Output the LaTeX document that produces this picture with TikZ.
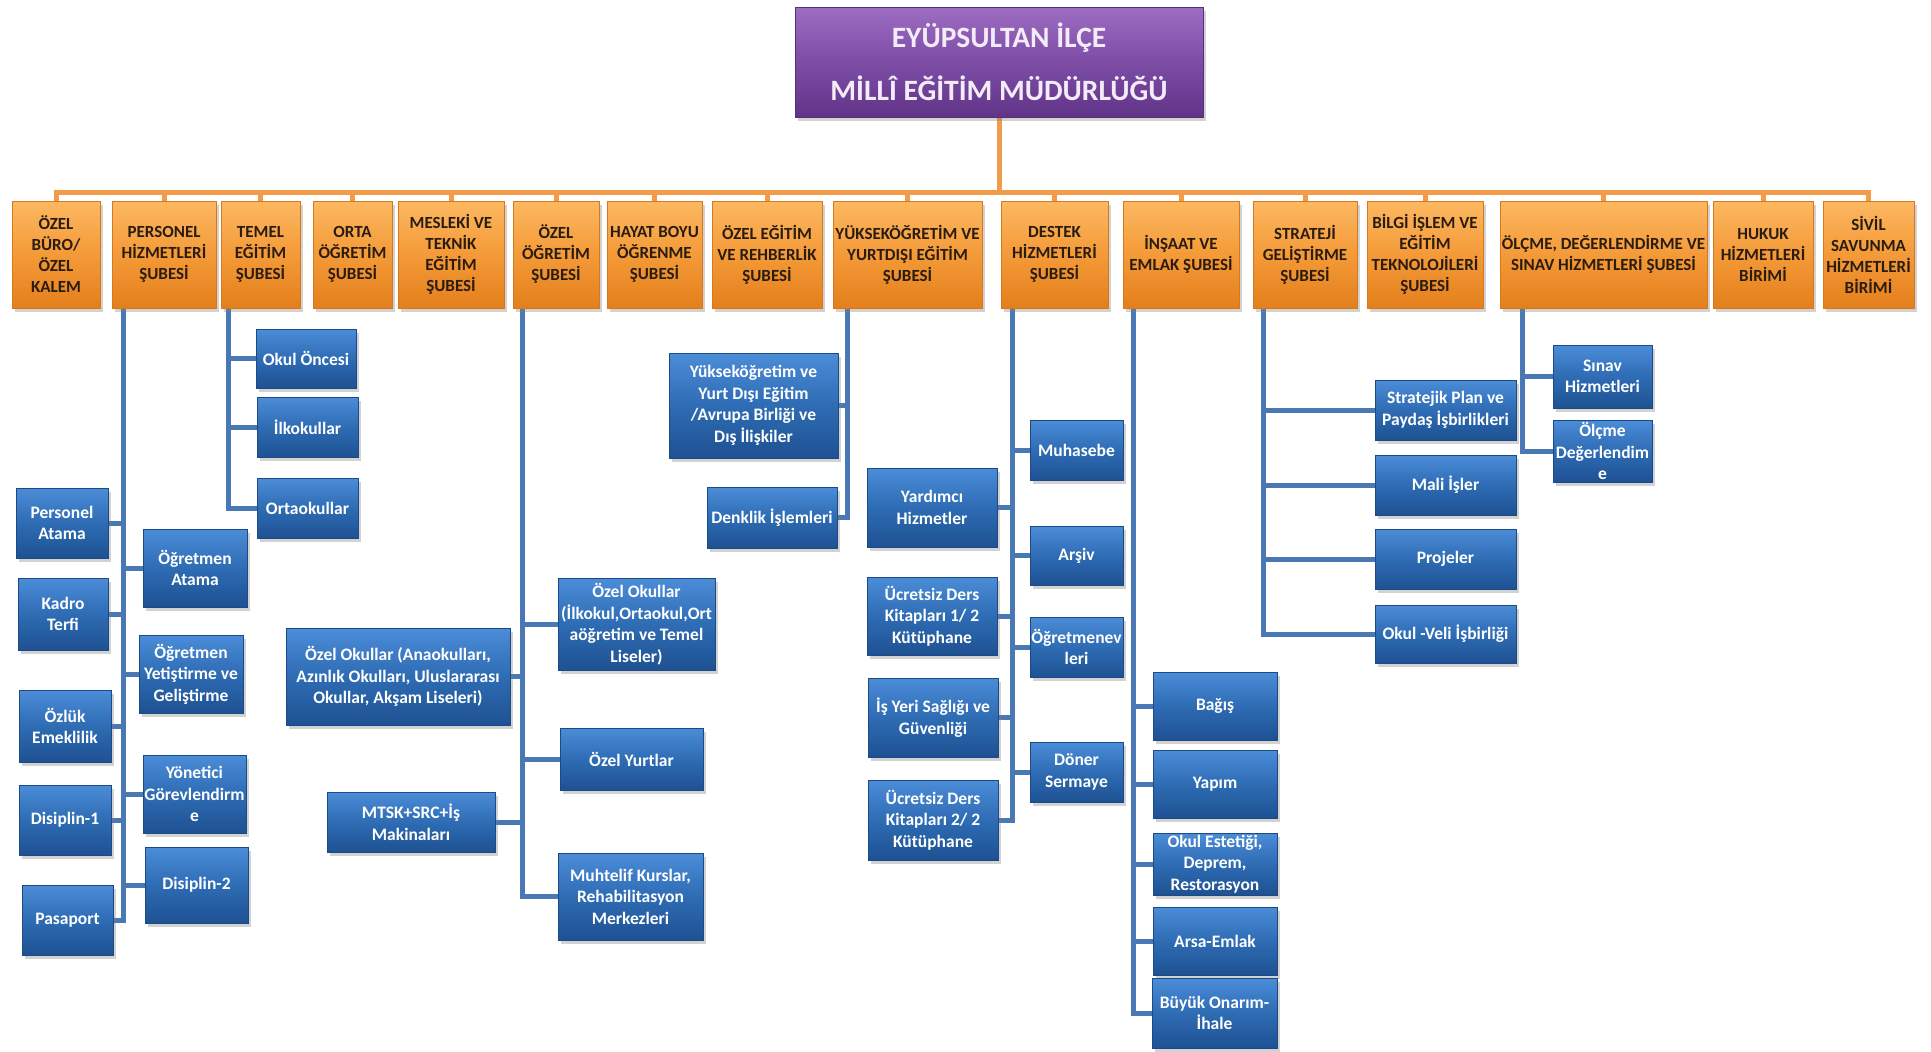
\documentclass[tikz,border=0pt]{standalone}
\usepackage{fontspec}
\setmainfont{Carlito}
\usetikzlibrary{shadows,backgrounds}
\definecolor{oTop}{HTML}{FCB862}
\definecolor{oMid}{HTML}{F49A38}
\definecolor{oBot}{HTML}{E37F1C}
\definecolor{oEdge}{HTML}{D8781C}
\definecolor{oText}{HTML}{2A1C0E}
\definecolor{oLine}{HTML}{F29B4A}
\definecolor{bTop}{HTML}{4C8DD8}
\definecolor{bMid}{HTML}{2E6CB4}
\definecolor{bBot}{HTML}{1E5192}
\definecolor{bEdge}{HTML}{1B4A86}
\definecolor{bLine}{HTML}{4A78B5}
\definecolor{pTop}{HTML}{9C6DC2}
\definecolor{pMid}{HTML}{7D4DA6}
\definecolor{pBot}{HTML}{603487}
\definecolor{pEdge}{HTML}{55307A}
\definecolor{pText}{HTML}{F4EBF8}
\tikzset{
  boxbase/.style={rectangle, inner sep=1pt, align=center,
    drop shadow={opacity=0.35, shadow xshift=3pt, shadow yshift=-4pt}},
  orgbox/.style={boxbase, draw=oEdge, line width=0.8pt, top color=oTop, bottom color=oBot, middle color=oMid,
    text=oText, font=\fontsize{17}{21}\selectfont\bfseries},
  bluebox/.style={boxbase, draw=bEdge, line width=0.8pt, top color=bTop, bottom color=bBot, middle color=bMid,
    text=white, font=\fontsize{17.5}{21.5}\selectfont\bfseries},
  headbox/.style={boxbase, draw=pEdge, line width=1pt, top color=pTop, bottom color=pBot, middle color=pMid,
    text=pText, font=\fontsize{29.5}{53}\selectfont\bfseries},
  blueline/.style={draw=bLine, line width=5pt},
  orgline/.style={draw=oLine, line width=5pt},
}
\newcommand\mkbox[7]{\node[#1, minimum width={(#5-#3)*1pt}, minimum height={(#6-#4)*1pt}] (#2) at ({(#3+#5)/2},{(#4+#6)/2}) {#7};}
\begin{document}
\begin{tikzpicture}[x=1pt,y=-1pt]
\useasboundingbox (0,0) rectangle (1931,1052);
% head
\mkbox{headbox}{head}{795}{7}{1203}{117}{EYÜPSULTAN İLÇE\\MİLLÎ EĞİTİM MÜDÜRLÜĞÜ}
% top row
\mkbox{orgbox}{ozelburo}{12}{201}{100}{308}{ÖZEL\\BÜRO/\\ÖZEL\\KALEM}
\mkbox{orgbox}{personel}{112}{201}{216}{308}{PERSONEL\\HİZMETLERİ\\ŞUBESİ}
\mkbox{orgbox}{temel}{221}{201}{300}{308}{TEMEL\\EĞİTİM\\ŞUBESİ}
\mkbox{orgbox}{orta}{313}{201}{392}{308}{ORTA\\ÖĞRETİM\\ŞUBESİ}
\mkbox{orgbox}{mesleki}{398}{201}{504}{308}{MESLEKİ VE\\TEKNİK\\EĞİTİM\\ŞUBESİ}
\mkbox{orgbox}{ozelogr}{513}{201}{599}{308}{ÖZEL\\ÖĞRETİM\\ŞUBESİ}
\mkbox{orgbox}{hayat}{607}{201}{702}{308}{HAYAT BOYU\\ÖĞRENME\\ŞUBESİ}
\mkbox{orgbox}{ozelegt}{712}{201}{822}{308}{ÖZEL EĞİTİM\\VE REHBERLİK\\ŞUBESİ}
\mkbox{orgbox}{yuksek}{833}{201}{982}{308}{YÜKSEKÖĞRETİM VE\\YURTDIŞI EĞİTİM\\ŞUBESİ}
\mkbox{orgbox}{destek}{1001}{201}{1108}{308}{DESTEK\\HİZMETLERİ\\ŞUBESİ}
\mkbox{orgbox}{insaat}{1123}{201}{1239}{308}{İNŞAAT VE\\EMLAK ŞUBESİ}
\mkbox{orgbox}{strateji}{1253}{201}{1357}{308}{STRATEJİ\\GELİŞTİRME\\ŞUBESİ}
\mkbox{orgbox}{bilgi}{1367}{201}{1483}{308}{BİLGİ İŞLEM VE\\EĞİTİM\\TEKNOLOJİLERİ\\ŞUBESİ}
\mkbox{orgbox}{olcme}{1500}{201}{1707}{308}{ÖLÇME, DEĞERLENDİRME VE\\SINAV HİZMETLERİ ŞUBESİ}
\mkbox{orgbox}{hukuk}{1713}{201}{1813}{308}{HUKUK\\HİZMETLERİ\\BİRİMİ}
\mkbox{orgbox}{sivil}{1823}{201}{1914}{308}{SİVİL\\SAVUNMA\\HİZMETLERİ\\BİRİMİ}
% personel
\mkbox{bluebox}{patama}{16}{488}{108}{558}{Personel\\Atama}
\mkbox{bluebox}{kadro}{18}{578}{108}{650}{Kadro\\Terfi}
\mkbox{bluebox}{ozluk}{19}{690}{111}{762}{Özlük\\Emeklilik}
\mkbox{bluebox}{disip1}{19}{785}{111}{855}{Disiplin-1}
\mkbox{bluebox}{pasaport}{22}{885}{113}{955}{Pasaport}
\mkbox{bluebox}{oatama}{143}{529}{247}{607}{Öğretmen\\Atama}
\mkbox{bluebox}{oyetis}{139}{635}{243}{713}{Öğretmen\\Yetiştirme ve\\Geliştirme}
\mkbox{bluebox}{yonetici}{143}{755}{246}{833}{Yönetici\\Görevlendirm\\e}
\mkbox{bluebox}{disip2}{145}{847}{248}{923}{Disiplin-2}
% temel
\mkbox{bluebox}{okulon}{256}{329}{356}{388}{Okul Öncesi}
\mkbox{bluebox}{ilkokul}{257}{397}{358}{457}{İlkokullar}
\mkbox{bluebox}{ortaokul}{257}{478}{358}{538}{Ortaokullar}
% ozel ogretim
\mkbox{bluebox}{ozokul1}{558}{578}{715}{670}{Özel Okullar\\(İlkokul,Ortaokul,Ort\\aöğretim ve Temel\\Liseler)}
\mkbox{bluebox}{ozokul2}{286}{628}{510}{725}{Özel Okullar (Anaokulları,\\Azınlık Okulları, Uluslararası\\Okullar, Akşam Liseleri)}
\mkbox{bluebox}{yurt}{560}{728}{703}{790}{Özel Yurtlar}
\mkbox{bluebox}{mtsk}{327}{792}{495}{852}{MTSK+SRC+İş\\Makinaları}
\mkbox{bluebox}{muhtelif}{558}{853}{703}{940}{Muhtelif Kurslar,\\Rehabilitasyon\\Merkezleri}
% yuksekogretim
\mkbox{bluebox}{yurtdisi}{669}{353}{838}{458}{Yükseköğretim ve\\Yurt Dışı Eğitim\\/Avrupa Birliği ve\\Dış İlişkiler}
\mkbox{bluebox}{denklik}{707}{487}{837}{548}{Denklik İşlemleri}
% destek
\mkbox{bluebox}{muhasebe}{1030}{420}{1123}{480}{Muhasebe}
\mkbox{bluebox}{arsiv}{1030}{526}{1123}{585}{Arşiv}
\mkbox{bluebox}{ogrevi}{1030}{617}{1123}{677}{Öğretmenev\\leri}
\mkbox{bluebox}{doner}{1030}{742}{1123}{802}{Döner\\Sermaye}
\mkbox{bluebox}{yardimci}{867}{468}{997}{547}{Yardımcı\\Hizmetler}
\mkbox{bluebox}{ucretA}{867}{577}{997}{655}{Ücretsiz Ders\\Kitapları 1/ 2\\Kütüphane}
\mkbox{bluebox}{isyeri}{868}{678}{998}{757}{İş Yeri Sağlığı ve\\Güvenliği}
\mkbox{bluebox}{ucretB}{868}{780}{998}{860}{Ücretsiz Ders\\Kitapları 2/ 2\\Kütüphane}
% insaat
\mkbox{bluebox}{bagis}{1153}{672}{1277}{740}{Bağış}
\mkbox{bluebox}{yapim}{1153}{750}{1277}{818}{Yapım}
\mkbox{bluebox}{estetik}{1153}{833}{1277}{895}{Okul Estetiği,\\Deprem,\\Restorasyon}
\mkbox{bluebox}{arsa}{1153}{907}{1277}{975}{Arsa-Emlak}
\mkbox{bluebox}{buyuk}{1152}{978}{1277}{1048}{Büyük Onarım-\\İhale}
% strateji
\mkbox{bluebox}{strplan}{1375}{380}{1516}{440}{Stratejik Plan ve\\Paydaş İşbirlikleri}
\mkbox{bluebox}{mali}{1375}{455}{1516}{515}{Mali İşler}
\mkbox{bluebox}{projeler}{1375}{529}{1516}{589}{Projeler}
\mkbox{bluebox}{okulveli}{1375}{605}{1516}{663}{Okul -Veli İşbirliği}
% olcme
\mkbox{bluebox}{sinav}{1553}{345}{1652}{408}{Sınav\\Hizmetleri}
\mkbox{bluebox}{olcdeg}{1553}{420}{1652}{482}{Ölçme\\Değerlendim\\e}
% trunk coordinates
\coordinate (tPers) at (123,0);
\coordinate (tTem) at (228,0);
\coordinate (tOzo) at (522,0);
\coordinate (tYuk) at (847,0);
\coordinate (tDes) at (1012,0);
\coordinate (tIns) at (1133,0);
\coordinate (tStr) at (1263,0);
\coordinate (tOlc) at (1522,0);
\path (ozelburo.north) ++(0,-8) coordinate (busL);
\path (sivil.north) ++(0,-8) coordinate (busR);
\begin{scope}[on background layer]
\fill[white] (0,0) rectangle (1931,1052);
% orange bus
\draw[orgline] (head.south) -- (head.south |- busL);
\draw[orgline] ([xshift=-2.5pt]busL) -- ([xshift=2.5pt]busR);
\foreach \n in {ozelburo,personel,temel,orta,mesleki,ozelogr,hayat,ozelegt,yuksek,destek,insaat,strateji,bilgi,olcme,hukuk,sivil}
  \draw[orgline] (\n.north) -- (\n.north |- busL);
% trunks
\draw[blueline] (personel.south -| tPers) |- (pasaport.east);
\foreach \n in {patama,kadro,ozluk,disip1} \draw[blueline] (\n.east) -- (\n.east -| tPers);
\foreach \n in {oatama,oyetis,yonetici,disip2} \draw[blueline] (\n.west) -- (\n.west -| tPers);
\draw[blueline] (temel.south -| tTem) |- (ortaokul.west);
\foreach \n in {okulon,ilkokul} \draw[blueline] (\n.west) -- (\n.west -| tTem);
\draw[blueline] (ozelogr.south -| tOzo) |- (muhtelif.west);
\foreach \n in {ozokul1,yurt} \draw[blueline] (\n.west) -- (\n.west -| tOzo);
\foreach \n in {ozokul2,mtsk} \draw[blueline] (\n.east) -- (\n.east -| tOzo);
\draw[blueline] (yuksek.south -| tYuk) |- (denklik.east);
\draw[blueline] (yurtdisi.east) -- (yurtdisi.east -| tYuk);
\draw[blueline] (destek.south -| tDes) |- (ucretB.east);
\foreach \n in {yardimci,ucretA,isyeri} \draw[blueline] (\n.east) -- (\n.east -| tDes);
\foreach \n in {muhasebe,arsiv,ogrevi,doner} \draw[blueline] (\n.west) -- (\n.west -| tDes);
\draw[blueline] (insaat.south -| tIns) |- (buyuk.west);
\foreach \n in {bagis,yapim,estetik,arsa} \draw[blueline] (\n.west) -- (\n.west -| tIns);
\draw[blueline] (strateji.south -| tStr) |- (okulveli.west);
\foreach \n in {strplan,mali,projeler} \draw[blueline] (\n.west) -- (\n.west -| tStr);
\draw[blueline] (olcme.south -| tOlc) |- (olcdeg.west);
\draw[blueline] (sinav.west) -- (sinav.west -| tOlc);
\end{scope}
\end{tikzpicture}
\end{document}
